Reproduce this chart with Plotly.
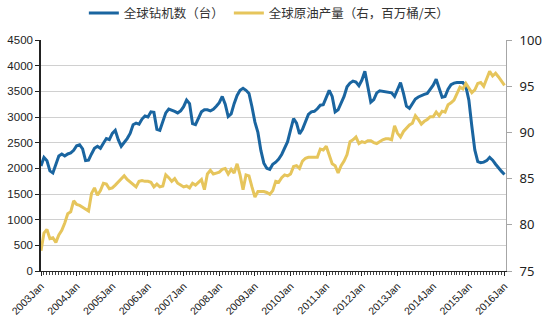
import plotly.graph_objects as go

# Monthly series, 2003-01 .. 2016-01 (157 months)
years = list(range(2003, 2017))
tick_labels = [f"{y}Jan" for y in years]

rig_count = [
    2045, 2215, 2150, 1950, 1910, 2100, 2240, 2280, 2240, 2280, 2300, 2350,
    2440, 2460, 2380, 2150, 2160, 2280, 2390, 2430, 2390, 2490, 2580, 2560,
    2680, 2740, 2560, 2430, 2500, 2580, 2680, 2850, 2880, 2860, 2960, 3020,
    3000, 3100, 3090, 2760, 2740, 2900, 3080, 3155, 3140, 3110, 3080, 3120,
    3200, 3330, 3260, 2870, 2850, 2960, 3100, 3140, 3140, 3120, 3150, 3210,
    3280, 3400, 3250, 3010, 3060, 3260, 3420, 3520, 3560, 3520, 3460, 3200,
    2900, 2700, 2350, 2100, 2000, 1980, 2080, 2120, 2180, 2270, 2380, 2520,
    2750, 2970, 2880, 2670, 2760, 2900, 3050, 3100, 3110, 3160, 3230, 3240,
    3400, 3520, 3400, 3100, 3140, 3280, 3400, 3590, 3660, 3700, 3680, 3610,
    3720, 3890, 3600, 3290, 3340, 3470, 3510, 3500, 3480, 3470, 3470, 3400,
    3540, 3670, 3460, 3210, 3170, 3260, 3350, 3390, 3420, 3440, 3460, 3530,
    3620, 3735, 3560, 3385, 3400, 3540, 3630, 3660, 3670, 3670, 3670, 3590,
    3330, 2820, 2360, 2130, 2110, 2120, 2150, 2215, 2160, 2080, 2000, 1940,
    1880,
]

oil_output = [
    77.2, 79.1, 79.5, 78.5, 78.6, 78.1, 78.9, 79.4, 80.2, 81.2, 81.4, 82.6,
    82.2, 82.1, 81.9, 81.7, 81.5, 83.4, 84.0, 83.2, 83.7, 84.5, 84.4, 83.9,
    84.0, 84.3, 84.6, 84.9, 85.3, 84.9, 84.6, 84.4, 84.1, 84.7, 84.8, 84.7,
    84.7, 84.6, 84.1, 84.4, 84.1, 84.2, 85.4, 85.1, 84.7, 85.0, 84.5, 84.3,
    84.1, 84.2, 84.0, 84.5, 84.3, 84.6, 84.9, 83.8, 85.5, 85.9, 85.5, 85.6,
    85.7, 86.0, 86.1, 85.5, 86.0, 85.6, 86.6, 85.4, 83.8, 85.4, 85.3, 84.1,
    83.0, 83.6, 83.6, 83.6, 83.5, 83.3, 83.7, 84.7, 84.6, 85.1, 85.4, 85.3,
    85.5, 86.3, 86.4, 86.1, 86.9, 87.2, 87.3, 87.3, 87.3, 87.3, 88.2, 88.1,
    88.5, 87.6, 86.6, 86.4, 85.6, 86.4, 86.9, 87.6, 89.0, 89.2, 89.5, 88.8,
    89.0, 88.9, 89.1, 89.1, 88.9, 88.8, 89.0, 89.2, 89.3, 89.3, 89.2, 90.7,
    89.9, 89.5, 90.1, 90.5, 90.8, 91.0, 91.8, 91.4, 90.9, 91.2, 91.4, 91.7,
    91.7, 92.2, 91.8, 92.3, 92.2, 93.0, 93.2, 93.5, 94.2, 94.9, 94.7, 95.3,
    94.8, 94.3, 94.6, 95.3, 95.4, 95.0, 95.8, 96.6, 96.1, 96.4, 96.0, 95.5,
    95.1,
]

months = list(range(len(rig_count)))
tick_pos = [12 * i for i in range(len(years))]

fig = go.Figure()
fig.add_trace(go.Scatter(
    x=months, y=rig_count, mode="lines", name="全球钻机数（台）",
    line=dict(color="#1A65A0", width=3), yaxis="y",
))
fig.add_trace(go.Scatter(
    x=months, y=oil_output, mode="lines", name="全球原油产量（右，百万桶/天）",
    line=dict(color="#E6C55C", width=3), yaxis="y2",
))

fig.update_layout(
    width=544, height=325,
    margin=dict(l=41, r=38, t=40, b=54, autoexpand=False),
    paper_bgcolor="white", plot_bgcolor="white",
    font=dict(family="Liberation Sans, Arial, sans-serif", color="#222222", size=11),
    showlegend=True,
    legend=dict(
        orientation="h", x=0.49, xanchor="center", y=1.115, yanchor="middle",
        font=dict(family="Noto Sans CJK SC", size=12.5, color="#333333"),
        itemwidth=30, tracegroupgap=0,
    ),
    xaxis=dict(
        range=[0, 156.5], tickmode="array", tickvals=tick_pos, ticktext=tick_labels,
        tickangle=-45, tickfont=dict(size=10.5, family="Liberation Sans"),
        showline=True, linecolor="#222222", linewidth=1,
        ticks="outside", ticklen=4, tickcolor="#222222",
        minor=dict(dtick=1, tick0=0, ticks="outside", ticklen=3, tickcolor="#444444"),
        showgrid=False, zeroline=False, automargin=False,
    ),
    yaxis=dict(
        range=[0, 4500], dtick=500, tick0=0,
        showline=True, linecolor="#222222", linewidth=1.5,
        ticks="outside", ticklen=4, tickcolor="#222222",
        showgrid=True, gridcolor="#D0D0D0", gridwidth=1.3,
        zeroline=False, tickfont=dict(size=11.5, family="Liberation Sans"),
        automargin=False,
    ),
    yaxis2=dict(
        range=[75, 100], dtick=5, tick0=75, overlaying="y", side="right",
        showline=True, linecolor="#A6A6A6", linewidth=1,
        ticks="outside", ticklen=5, tickcolor="#A6A6A6",
        showgrid=False, zeroline=False, ticklabelstandoff=5,
        tickfont=dict(size=13, family="Noto Sans", color="#222222"),
        automargin=False,
    ),
)

fig.write_html("out.html")
